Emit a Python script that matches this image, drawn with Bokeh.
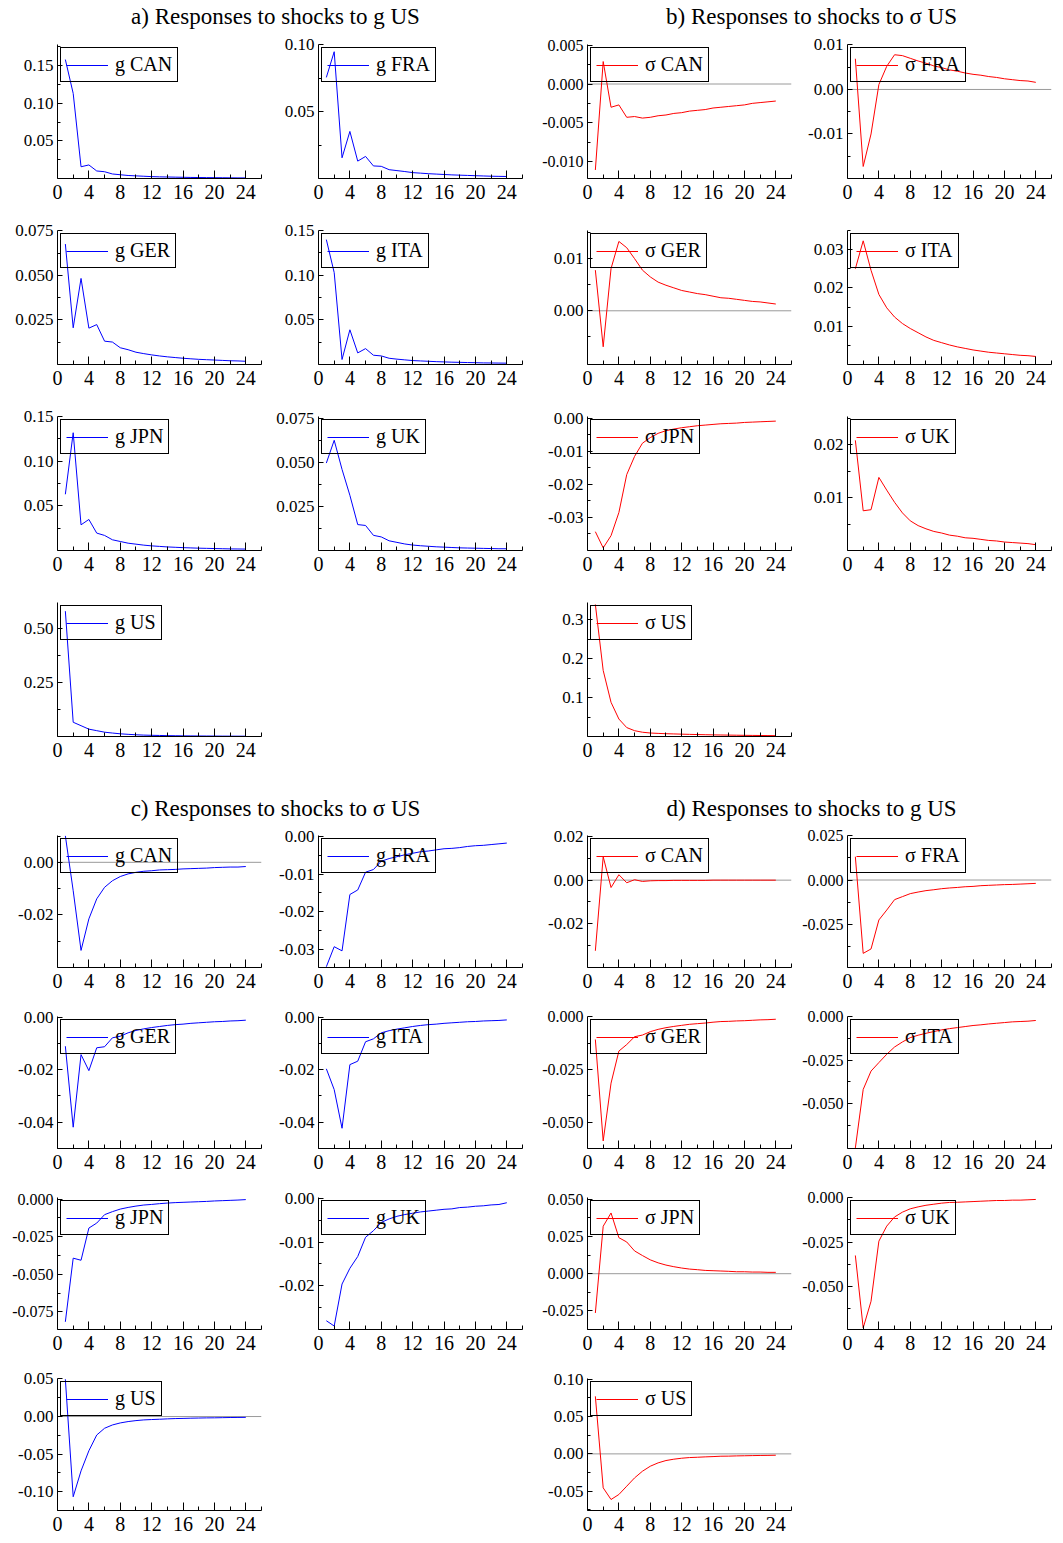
from bokeh.plotting import figure
from bokeh.layouts import column, row
from bokeh.models import Range1d, FixedTicker, Span, Spacer, CustomJSTickFormatter
from bokeh.core.properties import value
from bokeh.embed import file_html
from bokeh.resources import INLINE

FONT = "Liberation Serif"
BLUE = "#0000ff"
RED = "#ff0000"

# ---------------- data ----------------
periods = list(range(1, 25))
x_major_ticks = [0, 4, 8, 12, 16, 20, 24]
x_minor_ticks = [2, 6, 10, 14, 18, 22, 26]

titles = ["a) Responses to shocks to g US", "b) Responses to shocks to \u03c3 US",
          "c) Responses to shocks to \u03c3 US", "d) Responses to shocks to g US"]
countries = ["CAN", "FRA", "GER", "ITA", "JPN", "UK", "US"]

# a) g responses to shocks to g US
a_g_CAN = [0.158, 0.113, 0.0156, 0.018, 0.010, 0.009, 0.006, 0.005, 0.004, 0.0035, 0.003, 0.0025,
           0.0022, 0.002, 0.0018, 0.0016, 0.0014, 0.0013, 0.0012, 0.0011, 0.0010, 0.0009, 0.0008, 0.0008]
a_g_FRA = [0.0756, 0.0948, 0.0155, 0.0352, 0.0130, 0.0165, 0.0094, 0.0091, 0.0066, 0.0059, 0.0052, 0.0044,
           0.0040, 0.0036, 0.0033, 0.0030, 0.0027, 0.0025, 0.0023, 0.0021, 0.0019, 0.0017, 0.0016, 0.0015]
a_g_GER = [0.0676, 0.0206, 0.0483, 0.0204, 0.0224, 0.0131, 0.0126, 0.0094, 0.0083, 0.0069, 0.0061, 0.0054,
           0.0048, 0.0043, 0.0039, 0.0035, 0.0032, 0.0029, 0.0027, 0.0025, 0.0023, 0.0021, 0.0020, 0.0018]
a_g_ITA = [0.140, 0.103, 0.0056, 0.0389, 0.0130, 0.0178, 0.0104, 0.0096, 0.0070, 0.0060, 0.0052, 0.0044,
           0.0040, 0.0036, 0.0032, 0.0029, 0.0026, 0.0024, 0.0022, 0.0020, 0.0018, 0.0017, 0.0016, 0.0015]
a_g_JPN = [0.063, 0.132, 0.0288, 0.0348, 0.0195, 0.0169, 0.0120, 0.0101, 0.0082, 0.0071, 0.0060, 0.0052,
           0.0046, 0.0040, 0.0036, 0.0032, 0.0029, 0.0026, 0.0024, 0.0022, 0.0020, 0.0018, 0.0017, 0.0016]
a_g_UK = [0.0496, 0.0625, 0.0460, 0.0313, 0.0147, 0.0142, 0.0086, 0.0077, 0.0055, 0.0046, 0.0037, 0.0031,
          0.0027, 0.0024, 0.0021, 0.0019, 0.0017, 0.0015, 0.0014, 0.0013, 0.0012, 0.0011, 0.0010, 0.0010]
a_g_US = [0.580, 0.066, 0.050, 0.034, 0.027, 0.020, 0.016, 0.0125, 0.010, 0.008, 0.0065, 0.0055,
          0.0048, 0.0040, 0.0035, 0.0030, 0.0027, 0.0024, 0.0022, 0.0020, 0.0018, 0.0016, 0.0015, 0.0014]

# b) sigma responses to shocks to sigma US
b_s_CAN = [-0.0111, 0.0029, -0.0030, -0.0027, -0.0043, -0.0042, -0.0044, -0.0043, -0.0041, -0.0040, -0.0038, -0.0037,
           -0.0035, -0.0034, -0.0033, -0.0031, -0.0030, -0.0029, -0.0028, -0.0027, -0.0025, -0.0024, -0.0023, -0.0022]
b_s_FRA = [0.0069, -0.0173, -0.0100, 0.0011, 0.0052, 0.0078, 0.0076, 0.0070, 0.0064, 0.0059, 0.0053, 0.0049,
           0.0044, 0.0041, 0.0037, 0.0034, 0.0032, 0.0029, 0.0027, 0.0024, 0.0022, 0.0020, 0.0019, 0.0016]
b_s_GER = [0.0078, -0.0069, 0.0081, 0.0133, 0.0121, 0.0100, 0.0078, 0.0065, 0.0055, 0.0049, 0.0044, 0.0039,
           0.0036, 0.0033, 0.0031, 0.0028, 0.0025, 0.0024, 0.0022, 0.0020, 0.0018, 0.0017, 0.0015, 0.0013]
b_s_ITA = [0.0250, 0.0323, 0.0246, 0.0183, 0.0148, 0.0124, 0.0107, 0.0094, 0.0083, 0.0072, 0.0063, 0.0057,
           0.0051, 0.0046, 0.0042, 0.0038, 0.0035, 0.0032, 0.0030, 0.0028, 0.0026, 0.0024, 0.0023, 0.0021]
b_s_JPN = [-0.0343, -0.0392, -0.0355, -0.0285, -0.0170, -0.0115, -0.0075, -0.0058, -0.0045, -0.0037, -0.0032, -0.0028,
           -0.0025, -0.0022, -0.0020, -0.0018, -0.0016, -0.0015, -0.0014, -0.0012, -0.0011, -0.0010, -0.0009, -0.0008]
b_s_UK = [0.0208, 0.0075, 0.0077, 0.0138, 0.0114, 0.0091, 0.0071, 0.0056, 0.0047, 0.0041, 0.0036, 0.0033,
          0.0029, 0.0027, 0.0024, 0.0023, 0.0021, 0.0019, 0.0018, 0.0016, 0.0015, 0.0014, 0.0013, 0.0011]
b_s_US = [0.340, 0.170, 0.088, 0.045, 0.023, 0.015, 0.011, 0.009, 0.008, 0.0072, 0.0066, 0.0060,
          0.0055, 0.0050, 0.0046, 0.0042, 0.0039, 0.0036, 0.0033, 0.0030, 0.0028, 0.0026, 0.0024, 0.0022]

# c) g responses to shocks to sigma US
c_g_CAN = [0.0101, -0.0108, -0.0335, -0.0215, -0.0139, -0.0095, -0.0070, -0.0054, -0.0044, -0.0038, -0.0034, -0.0032,
           -0.0029, -0.0028, -0.0027, -0.0025, -0.0024, -0.0023, -0.0022, -0.0020, -0.0019, -0.0018, -0.0018, -0.0016]
c_g_FRA = [-0.0345, -0.0292, -0.0303, -0.0154, -0.0142, -0.0095, -0.0088, -0.0066, -0.0059, -0.0054, -0.0049, -0.0045,
           -0.0041, -0.0039, -0.0036, -0.0033, -0.0032, -0.0030, -0.0027, -0.0025, -0.0024, -0.0022, -0.0020, -0.0018]
c_g_GER = [-0.0111, -0.0419, -0.0143, -0.0204, -0.0117, -0.0113, -0.0079, -0.0073, -0.0060, -0.0051, -0.0045, -0.0040,
           -0.0036, -0.0032, -0.0029, -0.0027, -0.0024, -0.0022, -0.0020, -0.0018, -0.0017, -0.0015, -0.0014, -0.0012]
c_g_ITA = [-0.0197, -0.0276, -0.0423, -0.0181, -0.0168, -0.0094, -0.0083, -0.0060, -0.0052, -0.0046, -0.0041, -0.0036,
           -0.0032, -0.0029, -0.0027, -0.0024, -0.0022, -0.0020, -0.0018, -0.0017, -0.0015, -0.0014, -0.0013, -0.0011]
c_g_JPN = [-0.0816, -0.0393, -0.0407, -0.0193, -0.0160, -0.0104, -0.0084, -0.0067, -0.0056, -0.0047, -0.0040, -0.0036,
           -0.0031, -0.0027, -0.0024, -0.0022, -0.0020, -0.0018, -0.0016, -0.0013, -0.0011, -0.0009, -0.0007, -0.0004]
c_g_UK = [-0.0280, -0.0292, -0.0196, -0.0160, -0.0133, -0.0089, -0.0074, -0.0055, -0.0047, -0.0041, -0.0037, -0.0034,
          -0.0031, -0.0029, -0.0027, -0.0025, -0.0024, -0.0021, -0.0020, -0.0018, -0.0017, -0.0015, -0.0014, -0.0010]
c_g_US = [0.0496, -0.1067, -0.0723, -0.0455, -0.0246, -0.0156, -0.0112, -0.0085, -0.0067, -0.0054, -0.0045, -0.0040,
          -0.0036, -0.0031, -0.0027, -0.0025, -0.0022, -0.0020, -0.0018, -0.0017, -0.0015, -0.0013, -0.0012, -0.0011]

# d) sigma responses to shocks to g US
d_s_CAN = [-0.0326, 0.0108, -0.0034, 0.0025, -0.0012, 0.0002, -0.0006, -0.0003, -0.0002, -0.0002, -0.0001, -0.0001,
           -0.0001, -0.0001, -0.0001, 0.0000, 0.0000, 0.0000, 0.0000, 0.0000, 0.0000, 0.0000, 0.0000, 0.0000]
d_s_FRA = [0.0132, -0.0415, -0.0390, -0.0226, -0.0170, -0.0111, -0.0094, -0.0077, -0.0068, -0.0060, -0.0055, -0.0049,
           -0.0045, -0.0042, -0.0038, -0.0036, -0.0032, -0.0030, -0.0028, -0.0026, -0.0025, -0.0023, -0.0021, -0.0019]
d_s_GER = [-0.0107, -0.0588, -0.0314, -0.0162, -0.0131, -0.0094, -0.0086, -0.0070, -0.0059, -0.0051, -0.0045, -0.0040,
           -0.0035, -0.0032, -0.0029, -0.0025, -0.0022, -0.0021, -0.0019, -0.0018, -0.0016, -0.0014, -0.0013, -0.0011]
d_s_ITA = [-0.0757, -0.0419, -0.0313, -0.0264, -0.0216, -0.0174, -0.0145, -0.0120, -0.0106, -0.0095, -0.0085, -0.0075,
           -0.0068, -0.0062, -0.0056, -0.0050, -0.0046, -0.0041, -0.0037, -0.0033, -0.0029, -0.0027, -0.0025, -0.0021]
d_s_JPN = [-0.0264, 0.0319, 0.0408, 0.0242, 0.0213, 0.0153, 0.0122, 0.0093, 0.0073, 0.0058, 0.0047, 0.0038,
           0.0031, 0.0027, 0.0022, 0.0020, 0.0018, 0.0016, 0.0013, 0.0013, 0.0011, 0.0011, 0.0009, 0.0009]
d_s_UK = [-0.0326, -0.0736, -0.0585, -0.0245, -0.0160, -0.0108, -0.0081, -0.0062, -0.0051, -0.0042, -0.0036, -0.0030,
          -0.0026, -0.0025, -0.0023, -0.0021, -0.0019, -0.0017, -0.0015, -0.0015, -0.0013, -0.0013, -0.0011, -0.0009]
d_s_US = [0.0770, -0.0454, -0.0610, -0.0543, -0.0432, -0.0321, -0.0232, -0.0165, -0.0120, -0.0089, -0.0071, -0.0058,
          -0.0049, -0.0045, -0.0040, -0.0036, -0.0031, -0.0030, -0.0027, -0.0025, -0.0023, -0.0021, -0.0020, -0.0018]

# y-axis ranges, labelled ticks and decimals per panel (order: CAN FRA GER ITA JPN UK US)
a_ranges = [(0, 0.178), (0, 0.1002), (0, 0.0752), (0, 0.1502), (0, 0.1502), (0, 0.076), (0, 0.62)]
a_ticks = [[0.05, 0.10, 0.15], [0.05, 0.10], [0.025, 0.050, 0.075], [0.05, 0.10, 0.15],
           [0.05, 0.10, 0.15], [0.025, 0.050, 0.075], [0.25, 0.50]]
a_dec = [2, 2, 3, 2, 2, 3, 2]

b_ranges = [(-0.0122, 0.0051), (-0.020, 0.0101), (-0.0103, 0.0154), (0, 0.035), (-0.040, 0.0006),
            (0, 0.0253), (0, 0.345)]
b_ticks = [[-0.010, -0.005, 0.000, 0.005], [-0.01, 0.00, 0.01], [0.00, 0.01], [0.01, 0.02, 0.03],
           [-0.03, -0.02, -0.01, 0.00], [0.01, 0.02], [0.1, 0.2, 0.3]]
b_dec = [3, 2, 2, 2, 2, 2, 1]

c_ranges = [(-0.040, 0.0102), (-0.0347, 0.0002), (-0.050, 0.0002), (-0.050, 0.0002), (-0.0867, 0.001),
            (-0.030, 0.0002), (-0.125, 0.0506)]
c_ticks = [[-0.02, 0.00], [-0.03, -0.02, -0.01, 0.00], [-0.04, -0.02, 0.00], [-0.04, -0.02, 0.00],
           [-0.075, -0.050, -0.025, 0.000], [-0.02, -0.01, 0.00], [-0.10, -0.05, 0.00, 0.05]]
c_dec = [2, 2, 2, 2, 3, 2, 2]

d_ranges = [(-0.0403, 0.0206), (-0.0495, 0.0252), (-0.0624, 0.0002), (-0.0760, 0.0002), (-0.0375, 0.0512),
            (-0.0745, 0.0002), (-0.0757, 0.1008)]
d_ticks = [[-0.02, 0.00, 0.02], [-0.025, 0.000, 0.025], [-0.050, -0.025, 0.000], [-0.050, -0.025, 0.000],
           [-0.025, 0.000, 0.025, 0.050], [-0.050, -0.025, 0.000], [-0.05, 0.00, 0.05, 0.10]]
d_dec = [2, 3, 3, 3, 3, 3, 2]

groups = [
    ("g", BLUE, [a_g_CAN, a_g_FRA, a_g_GER, a_g_ITA, a_g_JPN, a_g_UK, a_g_US], a_ranges, a_ticks, a_dec),
    ("\u03c3", RED, [b_s_CAN, b_s_FRA, b_s_GER, b_s_ITA, b_s_JPN, b_s_UK, b_s_US], b_ranges, b_ticks, b_dec),
    ("g", BLUE, [c_g_CAN, c_g_FRA, c_g_GER, c_g_ITA, c_g_JPN, c_g_UK, c_g_US], c_ranges, c_ticks, c_dec),
    ("\u03c3", RED, [d_s_CAN, d_s_FRA, d_s_GER, d_s_ITA, d_s_JPN, d_s_UK, d_s_US], d_ranges, d_ticks, d_dec),
]

# ---------------- layout geometry ----------------
OFFSET = 8
COL_W = [261, 269, 260, 257]
LEFT = 49
FRAME_W = 204
TOP = 12


def make_panel(label, data, color, yr, ticks, dec, width, height, frame_h):
    p = figure(width=width, height=height, x_range=Range1d(0, 26), y_range=Range1d(*yr),
               toolbar_location=None, output_backend="svg",
               min_border_left=LEFT, min_border_right=width - LEFT - FRAME_W,
               min_border_top=TOP, min_border_bottom=height - TOP - frame_h)
    p.outline_line_color = None
    p.grid.visible = False
    p.background_fill_color = "white"
    p.border_fill_color = "white"

    span = yr[1] - yr[0]
    if yr[0] + 0.03 * span < 0 < yr[1] - 0.03 * span:
        zero = Span(location=0, dimension="width", line_color="#9a9a9a", line_width=1, level="underlay")
        p.add_layout(zero)

    p.line(periods, data, line_color=color, line_width=1, legend_label=label)

    step = ticks[1] - ticks[0]
    minor = [round(ticks[0] - step / 2 + k * step, 6) for k in range(len(ticks) + 2)]

    xa = p.xaxis[0]
    xa.ticker = FixedTicker(ticks=x_major_ticks, minor_ticks=x_minor_ticks)
    xa.major_tick_in = 8
    xa.major_tick_out = 0
    xa.minor_tick_in = 4
    xa.minor_tick_out = 0
    xa.major_label_standoff = 6
    xa.major_label_text_font_size = "20px"

    ya = p.yaxis[0]
    ya.ticker = FixedTicker(ticks=ticks, minor_ticks=minor)
    ya.formatter = CustomJSTickFormatter(args=dict(d=dec), code="return tick.toFixed(d);")
    ya.major_tick_in = 5
    ya.major_tick_out = 0
    ya.minor_tick_in = 3
    ya.minor_tick_out = 0
    ya.major_label_standoff = 4
    long_labels = dec == 3 and min(ticks) < 0
    ya.major_label_text_font_size = "16px" if long_labels else "17px"

    for ax in (xa, ya):
        ax.axis_line_color = "black"
        ax.major_tick_line_color = "black"
        ax.minor_tick_line_color = "black"
        ax.major_label_text_font = FONT
        ax.major_label_text_color = "black"

    lg = p.legend[0]
    lg.location = "top_left"
    lg.margin = 3
    lg.padding = 5
    lg.spacing = 0
    lg.glyph_width = 42
    lg.label_standoff = 7
    lg.border_line_color = "black"
    lg.border_line_alpha = 1.0
    lg.border_line_width = 1
    lg.background_fill_alpha = 0.0
    lg.label_text_font = FONT
    lg.label_text_font_size = "20px"
    lg.label_text_color = "black"
    return p


def header(text_left, text_right, height, y_center_from_top):
    # full-width strip (includes the left offset) holding the two group titles
    w = OFFSET + sum(COL_W)
    h = figure(width=w, height=height, x_range=Range1d(0, w), y_range=Range1d(0, height),
               x_axis_type=None, y_axis_type=None, toolbar_location=None, output_backend="svg",
               min_border=0)
    h.outline_line_color = None
    h.text(x=[275, 811], y=[height - y_center_from_top] * 2, text=[text_left, text_right],
           text_align="center", text_baseline="middle", text_font=value(FONT),
           text_font_size="23px", text_color="black")
    return h


def half(g_left, g_right, heights, frame_h):
    rows = []
    pairs = [(0, 1), (2, 3), (4, 5)]
    for r, (i, j) in enumerate(pairs):
        kids = [Spacer(width=OFFSET, height=heights[r])]
        for gi, g in enumerate((g_left, g_right)):
            sym, color, series, ranges, ticks, dec = g
            for cc, idx in enumerate((i, j)):
                col = gi * 2 + cc
                kids.append(make_panel(f"{sym} {countries[idx]}", series[idx], color, ranges[idx],
                                       ticks[idx], dec[idx], COL_W[col], heights[r], frame_h))
        rows.append(row(*kids))
    kids = [Spacer(width=OFFSET, height=heights[3])]
    for gi, g in enumerate((g_left, g_right)):
        sym, color, series, ranges, ticks, dec = g
        kids.append(make_panel(f"{sym} US", series[6], color, ranges[6], ticks[6], dec[6],
                               COL_W[gi * 2], heights[3], frame_h))
        kids.append(Spacer(width=COL_W[gi * 2 + 1], height=heights[3]))
    rows.append(row(*kids))
    return rows


top_rows = half(groups[0], groups[1], [186, 186, 186, 186], 134)
bot_rows = half(groups[2], groups[3], [181, 181, 181, 174], 132)

layout = column(header(titles[0], titles[1], 32, 16), *top_rows,
                header(titles[2], titles[3], 47, 32), *bot_rows)

open("out.html", "w").write(file_html(layout, INLINE))
